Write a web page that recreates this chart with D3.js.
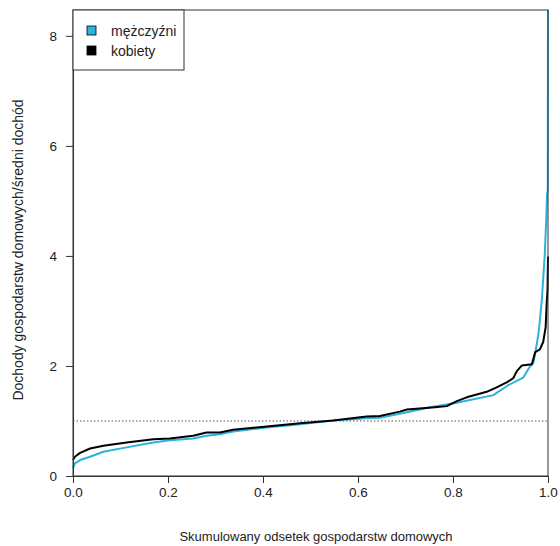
<!DOCTYPE html>
<html>
<head>
<meta charset="utf-8">
<script src="https://cdn.jsdelivr.net/npm/d3@7"></script>
<style>
  html, body { margin: 0; padding: 0; background: #fff; }
  svg { display: block; font-family: "Liberation Sans", Arial, sans-serif; }
</style>
</head>
<body>
<svg id="chart" width="560" height="546"></svg>
<script>
// Cumulative share of households (p) and household income relative to the mean (v)
const pKobiety = [0, 0.004, 0.015, 0.036, 0.064, 0.113, 0.169, 0.204, 0.253, 0.281, 0.309, 0.337,
  0.408, 0.478, 0.548, 0.618, 0.646, 0.688, 0.703, 0.762, 0.787, 0.808, 0.829, 0.871, 0.892,
  0.913, 0.927, 0.934, 0.945, 0.966, 0.973, 0.983, 0.99, 0.995, 0.997, 0.999, 1.0];
const vKobiety = [0.29, 0.35, 0.42, 0.50, 0.55, 0.61, 0.67, 0.68, 0.73, 0.79, 0.79, 0.84,
  0.90, 0.96, 1.01, 1.08, 1.09, 1.17, 1.21, 1.25, 1.27, 1.36, 1.43, 1.53, 1.61,
  1.70, 1.78, 1.90, 2.01, 2.03, 2.25, 2.30, 2.44, 2.70, 3.10, 3.40, 3.99];

const pMezczyzni = [0, 0.004, 0.015, 0.036, 0.064, 0.113, 0.169, 0.204, 0.253, 0.281, 0.309, 0.337,
  0.408, 0.478, 0.548, 0.618, 0.646, 0.688, 0.752, 0.808, 0.885, 0.916, 0.948, 0.962, 0.969,
  0.973, 0.98, 0.983, 0.987, 0.990, 0.993, 0.996, 0.998, 0.9995, 1.0];
const vMezczyzni = [0.14, 0.23, 0.29, 0.35, 0.44, 0.52, 0.61, 0.65, 0.68, 0.73, 0.76, 0.81,
  0.88, 0.94, 1.01, 1.05, 1.06, 1.13, 1.25, 1.33, 1.47, 1.65, 1.79, 1.99, 2.05,
  2.23, 2.59, 2.84, 3.20, 3.60, 4.00, 4.60, 5.10, 5.20, 8.47];

const xTicks = [0, 0.2, 0.4, 0.6, 0.8, 1.0];
const yTicks = [0, 2, 4, 6, 8];
const refLevel = 1;

const seriesNames = ["mężczyźni", "kobiety"];
const seriesColors = ["#2bb3dc", "#000000"];

const svg = d3.select("#chart");
const plot = { left: 73, right: 548, top: 10, bottom: 476 };
const yMax = d3.max(vMezczyzni);

const x = d3.scaleLinear().domain([0, 1]).range([plot.left, plot.right]);
const y = d3.scaleLinear().domain([0, yMax]).range([plot.bottom, plot.top]);

const axisColor = "#333";
const textColor = "#222";

// reference line at the mean income
svg.append("line")
  .attr("x1", x(0)).attr("x2", x(1))
  .attr("y1", y(refLevel)).attr("y2", y(refLevel))
  .attr("stroke", "#555").attr("stroke-width", 1)
  .attr("stroke-dasharray", "1.5,2");

const line = d3.line().x(d => x(d[0])).y(d => y(d[1]));

const series = [
  d3.zip(pMezczyzni, vMezczyzni),
  d3.zip(pKobiety, vKobiety)
];

series.forEach((pts, i) => {
  svg.append("path")
    .datum(pts)
    .attr("d", line)
    .attr("fill", "none")
    .attr("stroke", seriesColors[i])
    .attr("stroke-width", 2)
    .attr("stroke-linejoin", "round");
});

// plot frame
svg.append("rect")
  .attr("x", plot.left).attr("y", plot.top)
  .attr("width", plot.right - plot.left).attr("height", plot.bottom - plot.top)
  .attr("fill", "none").attr("stroke", axisColor).attr("stroke-width", 1);

// axes
const xAxis = d3.axisBottom(x).tickValues(xTicks).tickFormat(d3.format(".1f"))
  .tickSizeInner(7).tickSizeOuter(0).tickPadding(4);
const gx = svg.append("g").attr("transform", `translate(0,${plot.bottom})`).call(xAxis);

const yAxis = d3.axisLeft(y).tickValues(yTicks).tickFormat(d3.format("d"))
  .tickSizeInner(7).tickSizeOuter(0).tickPadding(9);
const gy = svg.append("g").attr("transform", `translate(${plot.left},0)`).call(yAxis);

[gx, gy].forEach(g => {
  g.select(".domain").attr("stroke", axisColor);
  g.selectAll(".tick line").attr("stroke", axisColor);
  g.selectAll(".tick text")
    .attr("fill", textColor)
    .style("font-size", "13.5px")
    .style("font-family", "'Liberation Sans', Arial, sans-serif");
});

// axis titles
svg.append("text")
  .attr("x", 316)
  .attr("y", 541)
  .attr("text-anchor", "middle")
  .attr("fill", textColor)
  .style("font-size", "13px")
  .text("Skumulowany odsetek gospodarstw domowych");

svg.append("text")
  .attr("transform", `translate(23,250) rotate(-90)`)
  .attr("text-anchor", "middle")
  .attr("fill", textColor)
  .style("font-size", "14px")
  .text("Dochody gospodarstw domowych/średni dochód");

// legend
const legend = svg.append("g");
legend.append("rect")
  .attr("x", plot.left).attr("y", plot.top)
  .attr("width", 111).attr("height", 60)
  .attr("fill", "#fff").attr("stroke", axisColor).attr("stroke-width", 1);

seriesNames.forEach((name, i) => {
  const cy = 31 + i * 20;
  legend.append("rect")
    .attr("x", 87).attr("y", cy - 5)
    .attr("width", 9).attr("height", 9)
    .attr("fill", seriesColors[i])
    .attr("stroke", "#000").attr("stroke-width", 0.8);
  legend.append("text")
    .attr("x", 111).attr("y", cy + 5)
    .attr("fill", textColor)
    .style("font-size", "14px")
    .text(name);
});
</script>
</body>
</html>
